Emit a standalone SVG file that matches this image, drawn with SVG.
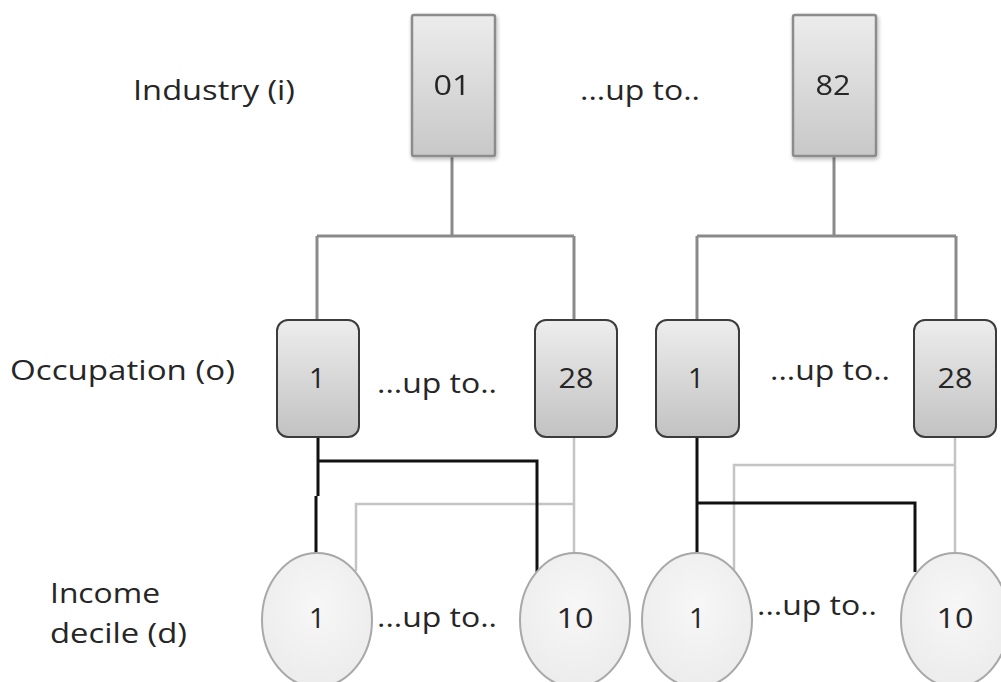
<svg xmlns="http://www.w3.org/2000/svg" width="1001" height="682" viewBox="0 0 1001 682">
<defs>
<linearGradient id="gTop" x1="0" y1="0" x2="0" y2="1"><stop offset="0" stop-color="#ececec"/><stop offset="1" stop-color="#c8c8c8"/></linearGradient>
<linearGradient id="gOcc" x1="0" y1="0" x2="0" y2="1"><stop offset="0" stop-color="#ededed"/><stop offset="1" stop-color="#c2c2c2"/></linearGradient>
<radialGradient id="gEl" cx="0.5" cy="0.4" r="0.6"><stop offset="0" stop-color="#f7f7f7"/><stop offset="1" stop-color="#ececec"/></radialGradient>
<filter id="sh" x="-20%" y="-20%" width="140%" height="140%"><feGaussianBlur in="SourceAlpha" stdDeviation="2"/><feOffset dx="1" dy="2"/><feComponentTransfer><feFuncA type="linear" slope="0.3"/></feComponentTransfer><feMerge><feMergeNode/><feMergeNode in="SourceGraphic"/></feMerge></filter>
</defs>
<style>
text{font-family:"Open Sans","Noto Sans","DejaVu Sans",sans-serif;font-size:27px;fill:#262626}
.num{text-anchor:middle;font-size:28px}
.top{fill:url(#gTop);stroke:#8c8c8c;stroke-width:2.5}
.occ{fill:url(#gOcc);stroke:#3c3c3c;stroke-width:2}
.el{fill:url(#gEl);stroke:#a8a8a8;stroke-width:2}
.tc{fill:none;stroke:#8a8a8a;stroke-width:3}
.bk{fill:none;stroke:#111;stroke-width:3}
.gy{fill:none;stroke:#c4c4c4;stroke-width:2.5}
</style>
<rect width="1001" height="682" fill="#fff"/>
<g id="labels">
<text x="133" y="100" textLength="162" lengthAdjust="spacingAndGlyphs">Industry (i)</text>
<text x="10" y="380" textLength="225" lengthAdjust="spacingAndGlyphs">Occupation (o)</text>
<text x="50" y="603" textLength="110" lengthAdjust="spacingAndGlyphs">Income</text>
<text x="50" y="643" textLength="137" lengthAdjust="spacingAndGlyphs">decile (d)</text>
<text x="580" y="100" textLength="120" lengthAdjust="spacingAndGlyphs">...up to..</text>
<text x="377" y="393" textLength="120" lengthAdjust="spacingAndGlyphs">...up to..</text>
<text x="770" y="380" textLength="120" lengthAdjust="spacingAndGlyphs">...up to..</text>
<text x="377" y="627" textLength="120" lengthAdjust="spacingAndGlyphs">...up to..</text>
<text x="757" y="615" textLength="120" lengthAdjust="spacingAndGlyphs">...up to..</text>
</g>
<g id="connectors">
<path class="tc" d="M452 157V236M317 236H574M317 236V320M574 236V320"/>
<path class="tc" d="M834 157V236M697 236H956M697 236V320M956 236V320"/>
<path class="gy" d="M574 438V553M574 504H356V571"/>
<path class="bk" d="M318 438V496M316 496V553M318 461H537V572"/>
<path class="gy" d="M955 437V553M955 465H734V571"/>
<path class="bk" d="M697 437V553M697 503H915V572"/>
</g>
<g id="ind01" filter="url(#sh)"><rect class="top" x="412" y="15" width="83" height="141" rx="2"/><text class="num" x="452" y="95" textLength="37" lengthAdjust="spacingAndGlyphs">01</text></g>
<g id="ind82" filter="url(#sh)"><rect class="top" x="793" y="15" width="83" height="141" rx="2"/><text class="num" x="833" y="95" textLength="35" lengthAdjust="spacingAndGlyphs">82</text></g>
<g id="occL1"><rect class="occ" x="277" y="320" width="82" height="117" rx="11"/><text class="num" x="317" y="388">1</text></g>
<g id="occL28"><rect class="occ" x="535" y="320" width="82" height="117" rx="11"/><text class="num" x="576" y="388" textLength="35" lengthAdjust="spacingAndGlyphs">28</text></g>
<g id="occR1"><rect class="occ" x="656" y="320" width="83" height="117" rx="11"/><text class="num" x="696" y="388">1</text></g>
<g id="occR28"><rect class="occ" x="914" y="320" width="82" height="117" rx="11"/><text class="num" x="955" y="388" textLength="35" lengthAdjust="spacingAndGlyphs">28</text></g>
<g id="decL1"><ellipse class="el" cx="317" cy="620" rx="55" ry="67"/><text class="num" x="317" y="628">1</text></g>
<g id="decL10"><ellipse class="el" cx="575" cy="620" rx="55" ry="67"/><text class="num" x="575" y="628" textLength="37" lengthAdjust="spacingAndGlyphs">10</text></g>
<g id="decR1"><ellipse class="el" cx="697" cy="620" rx="55" ry="67"/><text class="num" x="697" y="628">1</text></g>
<g id="decR10"><ellipse class="el" cx="955" cy="620" rx="54" ry="67"/><text class="num" x="955" y="628" textLength="37" lengthAdjust="spacingAndGlyphs">10</text></g>
</svg>
